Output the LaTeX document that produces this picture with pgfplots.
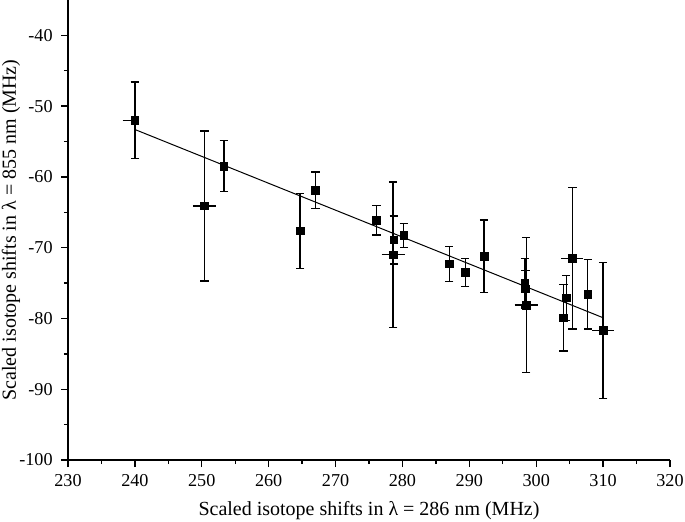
\documentclass[border=0pt]{standalone}
\usepackage{pgfplots}
\pgfplotsset{compat=1.18}
\usepackage{pgfplotstable}
\usepackage{fontspec}
\setmainfont{Liberation Serif}
\pgfplotstableread{
x y ey
240.0 -52.0 5.4
250.4 -64.1 10.6
253.3 -58.5 3.6
264.7 -67.6 5.3
267.0 -61.9 2.6
276.1 -66.1 2.1
278.7 -68.9 3.4
278.6 -71.0 10.3
280.2 -68.3 1.7
287.0 -72.3 2.5
289.4 -73.5 2.0
292.2 -71.2 5.1
298.3 -75.0 3.5
298.4 -75.8 2.6
298.5 -78.1 9.5
304.1 -79.9 4.7
304.5 -77.1 3.2
305.4 -71.5 10.0
307.7 -76.6 4.9
310.0 -81.7 9.6
}\datatable
\pgfplotstableread{
x y exp exm
240.0 -52.0 0.0 1.2
250.4 -64.1 1.1 1.1
278.6 -71.0 1.1 1.1
298.5 -78.1 1.1 1.1
305.4 -71.5 1.0 1.0
310.0 -81.7 1.0 1.0
}\xerrtable
\begin{document}
\begin{tikzpicture}
\begin{axis}[
  name=ax,
  scale only axis,
  width=361.2pt, height=276pt,
  xmin=230, xmax=320, ymin=-100, ymax=-35,
  axis x line=bottom, axis y line=left,
  axis line style={-, line width=0.8pt},
  tick align=outside,
  tick style={black, line width=0.8pt},
  major tick length=4.2pt, minor tick length=2.5pt,
  xtick={230,240,...,320}, ytick={-100,-90,...,-40},
  minor x tick num=1, minor y tick num=1,
  /pgf/number format/assume math mode=true,
  ticklabel style={font=\fontsize{10.9}{12}\selectfont},
  xticklabel style={yshift=-1pt},
  yticklabel style={xshift=-1.5pt},
  xlabel={Scaled isotope shifts in λ = 286 nm (MHz)},
  ylabel={Scaled isotope shifts in λ = 855 nm (MHz)},
  label style={font=\fontsize{12}{14}\selectfont},
  xlabel style={at={([yshift=-33pt]axis description cs:0.5,0)}, anchor=base},
  ylabel style={at={([xshift=-34.2pt]axis description cs:0,0.5)}, anchor=center, rotate=0},
  clip=false,
]
\addplot[black, line width=0.6pt, no marks] coordinates {(240,-53.3) (310,-79.9)};
\addplot[black, only marks, mark=square*, mark size=2.3pt,
  error bars/.cd, y dir=both, y explicit,
  error bar style={line width=0.8pt},
  error mark options={rotate=90, mark size=2.5pt, line width=0.8pt}]
  table[x=x, y=y, y error=ey]{\datatable};
\addplot[black, only marks, mark=square*, mark size=2.3pt,
  error bars/.cd, x dir=both, x explicit,
  error bar style={line width=0.8pt},
  error mark options={mark size=2.5pt, line width=0.8pt}]
  table[x=x, y=y, x error plus=exp, x error minus=exm]{\xerrtable};
\end{axis}
\pgfresetboundingbox
\path[use as bounding box] ([xshift=-40.8pt,yshift=-37pt]ax.south west) rectangle ([xshift=9pt]ax.north east);
\end{tikzpicture}
\end{document}
